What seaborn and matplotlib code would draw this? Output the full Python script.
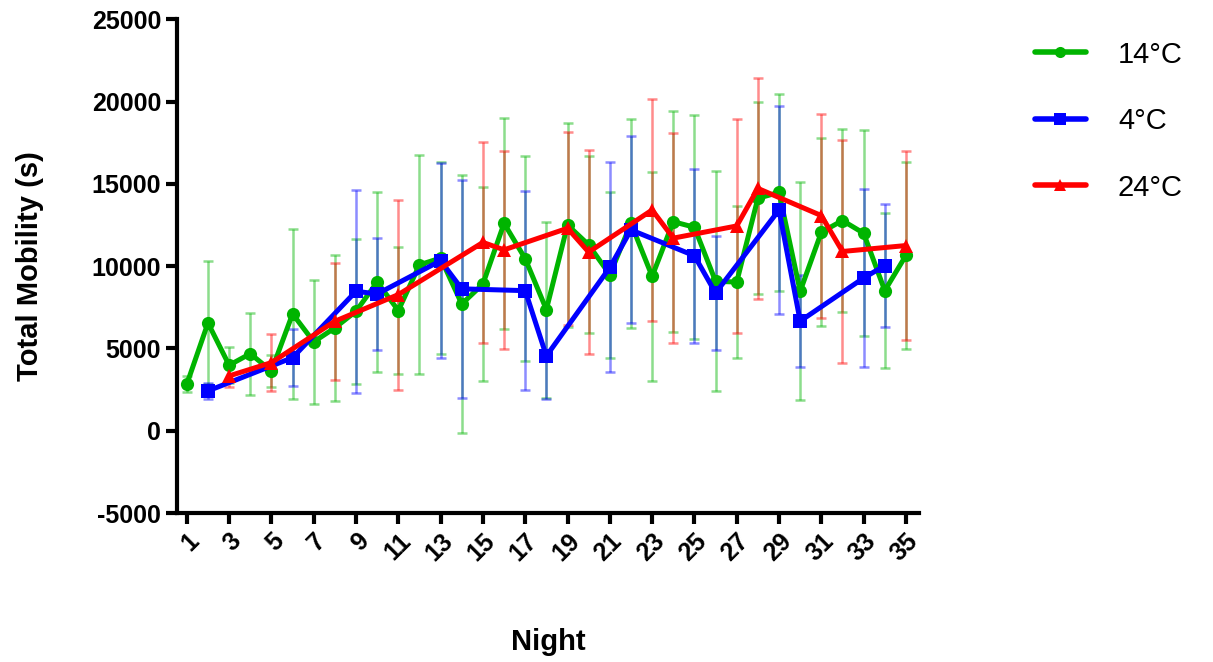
import numpy as np
import pandas as pd
import matplotlib
matplotlib.use("Agg")
import matplotlib.pyplot as plt
import seaborn as sns

# ---- data ----
nights_14 = list(range(1, 36))
mean_14 = [2830, 6550, 3980, 4680, 3630, 7100, 5400, 6250, 7260, 9030,
           7300, 10080, 10490, 7700, 8910, 12600, 10450, 7360, 12500, 11290,
           9480, 12600, 9380, 12700, 12360, 9075, 9035, 14120, 14480, 8470,
           12060, 12770, 12000, 8510, 10650]
sd_14 = [500, 3740, 1100, 2500, 970, 5150, 3750, 4450, 4400, 5480,
         3860, 6660, 5830, 7850, 5900, 6400, 6220, 5350, 6180, 5380,
         5040, 6350, 6330, 6730, 6800, 6680, 4620, 5830, 5970, 6630,
         5700, 5580, 6260, 4700, 5700]

nights_4 = [2, 6, 9, 10, 13, 14, 17, 18, 21, 22, 25, 26, 29, 30, 33, 34]
mean_4 = [2420, 4440, 8470, 8310, 10330, 8620, 8510, 4540, 9920, 12200,
          10630, 8370, 13410, 6660, 9280, 10030]
sd_4 = [480, 1720, 6180, 3420, 5930, 6620, 6050, 2620, 6380, 5680,
        5270, 3460, 6290, 2790, 5430, 3750]

nights_24 = [3, 5, 8, 11, 15, 16, 19, 20, 23, 24, 27, 28, 31, 32, 35]
mean_24 = [3330, 4140, 6650, 8270, 11440, 10990, 12300, 10850, 13410, 11700,
           12440, 14720, 13070, 10890, 11250]
sd_24 = [650, 1750, 3550, 5770, 6100, 6000, 5870, 6200, 6720, 6400,
         6500, 6700, 6200, 6750, 5730]

labels = ["14°C", "4°C", "24°C"]
colors = ["#00B400", "#0000FF", "#FF0000"]
markers = ["o", "s", "^"]

df = pd.concat([
    pd.DataFrame({"night": nights_14, "mobility": mean_14, "sd": sd_14, "group": labels[0]}),
    pd.DataFrame({"night": nights_4, "mobility": mean_4, "sd": sd_4, "group": labels[1]}),
    pd.DataFrame({"night": nights_24, "mobility": mean_24, "sd": sd_24, "group": labels[2]}),
], ignore_index=True)

# ---- style ----
sns.set_style("ticks")
plt.rcParams['font.family'] = ['Liberation Sans', 'DejaVu Sans']
plt.rcParams['axes.unicode_minus'] = False
for k in ["text.color", "axes.labelcolor", "xtick.color", "ytick.color", "axes.edgecolor"]:
    plt.rcParams[k] = "black"

fig = plt.figure(figsize=(12.13, 6.62), dpi=100)
ax = fig.add_axes([0.146, 0.225, 0.612, 0.746])

# error bars first, behind the lines
for lab, col in zip(labels, colors):
    sub = df[df["group"] == lab]
    ax.errorbar(sub["night"], sub["mobility"], yerr=sub["sd"], fmt="none",
                ecolor=col, elinewidth=1.8, capsize=3.5, capthick=1.8,
                alpha=0.45, zorder=1)

sns.lineplot(data=df, x="night", y="mobility", hue="group", style="group",
             hue_order=labels, style_order=labels,
             palette=dict(zip(labels, colors)),
             markers=dict(zip(labels, markers)), dashes=False,
             linewidth=3.6, markersize=9.5, markeredgewidth=0,
             ax=ax, zorder=3, legend=True)

ax.set_xlim(0.54, 35.64)
ax.set_ylim(-5000, 25000)
ax.set_yticks(np.arange(-5000, 25001, 5000))
ax.set_xticks(np.arange(1, 36, 2))

sns.despine(ax=ax)
for sp in ["left", "bottom"]:
    ax.spines[sp].set_linewidth(3)
ax.tick_params(axis="both", width=3, length=8, labelsize=18)
for t in ax.get_yticklabels():
    t.set_fontweight("bold")
for t in ax.get_xticklabels():
    t.set_fontweight("bold")
    t.set_rotation(45)
    t.set_ha("right")
    t.set_rotation_mode("anchor")

ax.set_xlabel("Night", fontsize=21, fontweight="bold", labelpad=45)
ax.set_ylabel("Total Mobility (s)", fontsize=21, fontweight="bold", labelpad=34)

leg = ax.legend(loc="upper left", bbox_to_anchor=(1.12, 1.01), frameon=False,
                fontsize=21, handlelength=1.75, labelspacing=1.32, handletextpad=1.1)
for h in leg.legend_handles:
    h.set_linewidth(4)
    h.set_markersize(8)

fig.savefig("out.png", dpi=100)
